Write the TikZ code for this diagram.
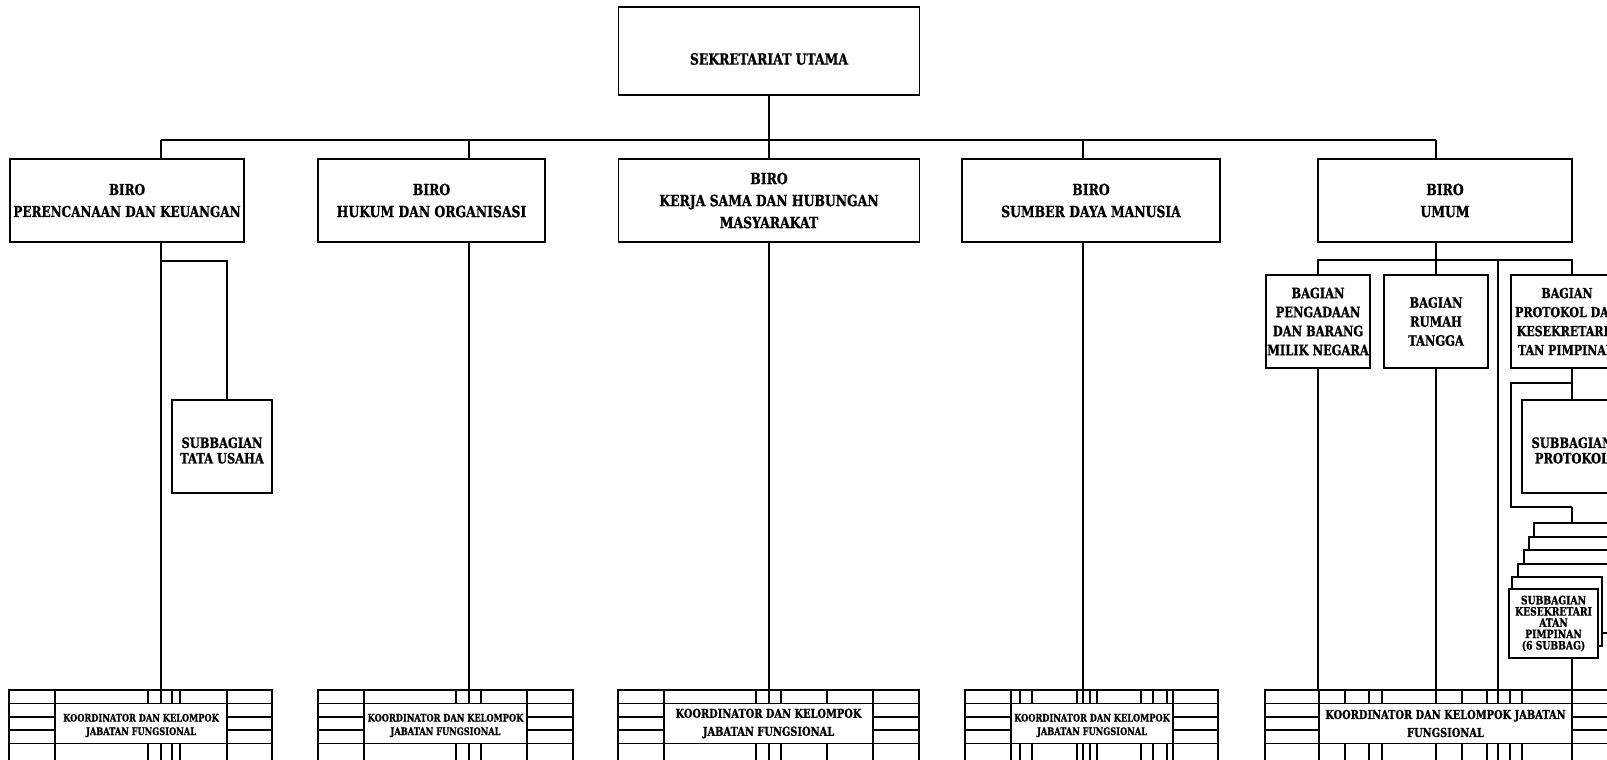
\documentclass[tikz,border=0pt]{standalone}
\usepackage{fontspec}
\newfontfamily\slab{DejaVu Serif}[UprightFont={* Bold}, FakeStretch=0.8, FakeBold=1.0]
\tikzset{
 bx/.style={draw, line width=1.8pt, fill=white, inner sep=0pt, align=center, text=black},
 biro/.style={bx, font=\slab\fontsize{15.5}{22}\selectfont},
 bag/.style={bx, font=\slab\fontsize{14.3}{19}\selectfont},
 bagl/.style={font=\slab\fontsize{13.8}{19}\selectfont, align=center, inner sep=0pt},
 subl/.style={font=\slab\fontsize{14.3}{15.5}\selectfont, align=center, inner sep=0pt},
 stk/.style={bx, line width=1.4pt, font=\slab\fontsize{11.5}{11.3}\selectfont},
 conn/.style={line width=1.6pt},
 gl/.style={line width=1.5pt},
 ks/.style={font=\slab\fontsize{10.3}{13.5}\selectfont, align=center, inner sep=0pt},
 kb/.style={font=\slab\fontsize{12.3}{18}\selectfont, align=center, inner sep=0pt},
 lbl/.style={font=\slab\fontsize{15.5}{22}\selectfont, align=center, inner sep=0pt},
}
% #1 name, #2 x0, #3 text-left, #4 text-right, #5 x1, #6 inner columns, #7 style, #8 text, #9 text y
\newcommand\kgrid[9]{%
 \draw[gl] (#2,690) rectangle (#5,790);
 \draw[gl] (#2,703.5) -- (#5,703.5) (#2,743.5) -- (#5,743.5);
 \draw[gl] (#2,717) -- (#3,717) (#2,730) -- (#3,730) (#4,717) -- (#5,717) (#4,730) -- (#5,730);
 \draw[gl] (#3,690) -- (#3,790) (#4,690) -- (#4,790);
 \foreach \c in {#6} {\draw[gl] (\c,690) -- (\c,703.5) (\c,743.5) -- (\c,790);}
 \node[#7] (#1) at ({(#3+#4)/2},#9) {#8};
}
\begin{document}
\begin{tikzpicture}[x=1pt,y=-1pt]
\useasboundingbox (0,0) rectangle (1607,760);
\fill[white] (0,0) rectangle (1607,760);
\clip (0,0) rectangle (1607,760);

% top
\node[bx, minimum width=301, minimum height=88] (sek) at (769,51) {};
\node[lbl] (sekt) at (769,59) {SEKRETARIAT UTAMA};

% bus coordinates
\coordinate (d1) at (161,140);
\coordinate (d2) at (469,140);
\coordinate (d3) at (769,140);
\coordinate (d4) at (1083,140);
\coordinate (d5) at (1436,140);
\coordinate (ktop) at (0,690);

\node[biro, minimum width=234, minimum height=83, font=\slab\fontsize{15}{22}\selectfont] (perenc) at (127,200.5) {BIRO\\PERENCANAAN DAN KEUANGAN};
\node[biro, minimum width=227, minimum height=83] (hukum) at (431.5,200.5) {BIRO\\HUKUM DAN ORGANISASI};
\node[biro, minimum width=301, minimum height=83] (kerja) at (769,200.5) {BIRO\\KERJA SAMA DAN HUBUNGAN\\MASYARAKAT};
\node[biro, minimum width=258, minimum height=83] (sdm) at (1091,200.5) {BIRO\\SUMBER DAYA MANUSIA};
\node[biro, minimum width=254, minimum height=83] (umum) at (1445,200.5) {BIRO\\UMUM};

\draw[conn] (sek.south) -- (sek.south |- d1);
\draw[conn] (d1) -- (d5);
\foreach \d/\b in {d1/perenc,d2/hukum,d3/kerja,d4/sdm} {
  \draw[conn] (\d) -- (\d |- \b.north);
  \draw[conn] (\d |- \b.south) -- (\d |- ktop);
}
\draw[conn] (d5) -- (d5 |- umum.north);

% Perencanaan: subbagian tata usaha
\node[bx, minimum width=100, minimum height=93,
      label={[subl, yshift=-4pt]center:{SUBBAGIAN\\TATA USAHA}}] (tu) at (222,446.5) {};
\coordinate (tuj) at (161,261);
\draw[conn] (tuj) -| ([xshift=5pt]tu.north);

% Umum
\coordinate (ub) at (1436,260);
\coordinate (lone) at (1498,260);
\coordinate (pdrop) at (1572,260);
\node[bag, minimum width=104, minimum height=93] (peng) at (1318,321.5) {BAGIAN\\PENGADAAN\\DAN BARANG\\MILIK NEGARA};
\node[bag, minimum width=104, minimum height=93] (rumah) at (1436,321.5) {BAGIAN\\RUMAH\\TANGGA};
\node[bx, minimum width=104, minimum height=93,
      label={[bagl, xshift=4pt]center:{BAGIAN\\PROTOKOL DAN\\KESEKRETARIA\\TAN PIMPINAN}}] (prot) at (1563,321.5) {};
\draw[conn] (umum.south -| ub) -- (ub);
\draw[conn] (peng.north) -- (peng.north |- ub) -- (pdrop) -- (pdrop |- prot.north);
\draw[conn] (ub) -- (rumah.north);
\draw[conn] (lone) -- (lone |- ktop);
\draw[conn] (peng.south) -- (peng.south |- ktop);
\draw[conn] (rumah.south) -- (rumah.south |- ktop);

\node[bx, minimum width=100, minimum height=93,
      label={[subl, yshift=-4pt]center:{SUBBAGIAN\\PROTOKOL}}] (sprot) at (1572,446.5) {};
\coordinate (pj) at (1572,383);
\coordinate (rt) at (1511,383);
\coordinate (rb) at (1511,507);
\coordinate (pb) at (1572,507);
\draw[conn] (pdrop |- prot.south) -- (sprot.north);
\draw[conn] (pj) -- (rt) -- (rb) -- (pb);

% stack of subbagian kesekretariatan
\foreach \i/\cx/\cy in {5/1579/557.5, 4/1574/571.5, 3/1569/584.5, 2/1563/598.5, 1/1557/611.5} {
  \node[stk, minimum width=90, minimum height=69] (s\i) at (\cx,\cy) {};
}
\node[stk, minimum width=89, minimum height=69] (s0) at (1553.5,623.5) {SUBBAGIAN\\KESEKRETARI\\ATAN\\PIMPINAN\\(6 SUBBAG)};
\draw[conn] (pb) -- (s5.north -| pb);
\draw[conn] (s0.south -| pb) -- (pb |- ktop);

% koordinator grids
\kgrid{k1}{9}{55}{227}{272}{148,161,172,180}{ks}{KOORDINATOR DAN KELOMPOK\\JABATAN FUNGSIONAL}{725.5}
\kgrid{k2}{318}{364}{527}{573}{456,469,481}{ks}{KOORDINATOR DAN KELOMPOK\\JABATAN FUNGSIONAL}{725.5}
\kgrid{k3}{618}{664}{873}{919}{756,769,781,827}{kb}{KOORDINATOR DAN KELOMPOK\\JABATAN FUNGSIONAL}{723.5}
\kgrid{k4}{965}{1011}{1173}{1218}{1020,1032,1077,1083,1090,1097,1141,1153,1167}{ks}{KOORDINATOR DAN KELOMPOK\\JABATAN FUNGSIONAL}{725.5}
\kgrid{k5}{1265}{1319}{1572}{1640}{1345,1369,1382,1436,1462,1487,1498,1510,1522}{kb}{KOORDINATOR DAN KELOMPOK JABATAN\\FUNGSIONAL}{723.5}
\end{tikzpicture}
\end{document}
